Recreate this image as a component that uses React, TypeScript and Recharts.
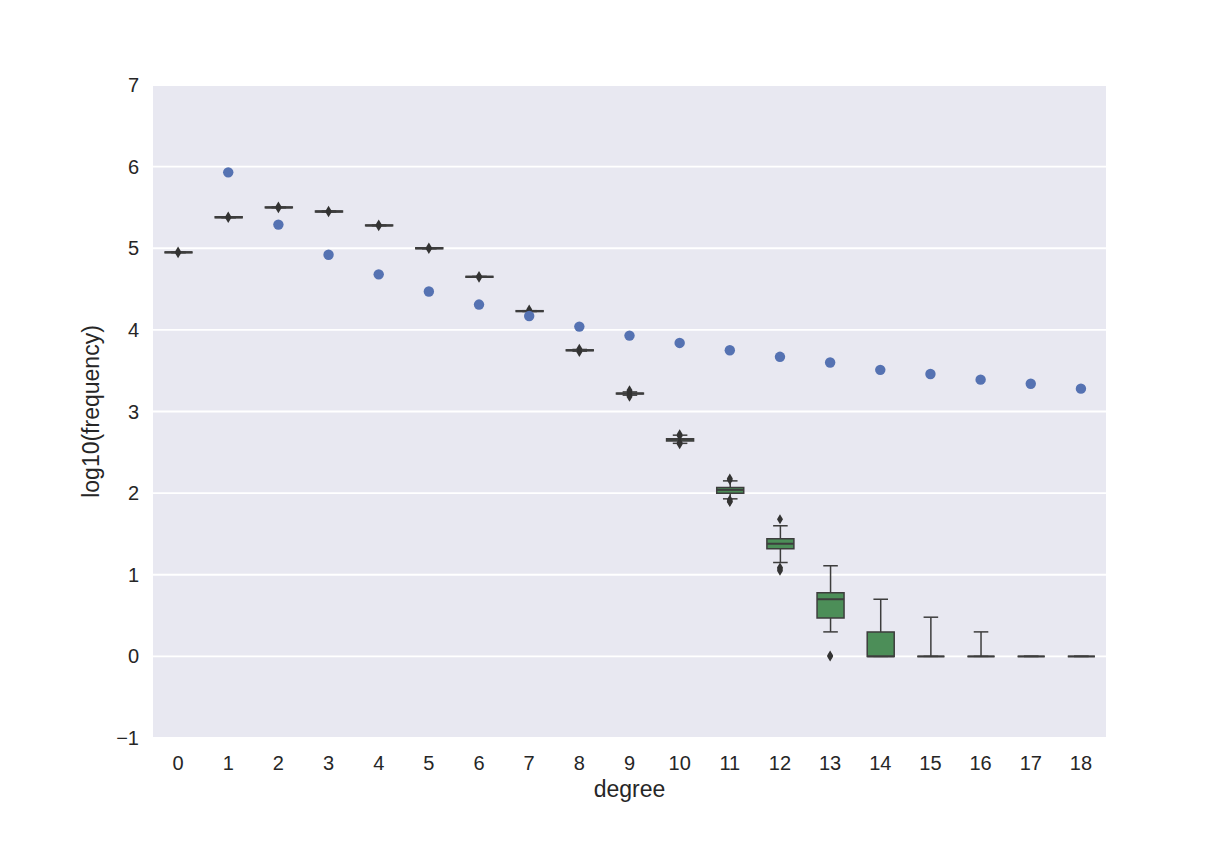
import React from "react";
import { ComposedChart, Bar, Scatter, XAxis, YAxis, CartesianGrid, Label } from "recharts";

const degrees = ["0", "1", "2", "3", "4", "5", "6", "7", "8", "9", "10", "11", "12", "13", "14", "15", "16", "17", "18"];

// blue points (observed)
const observed = [null, 5.93, 5.29, 4.92, 4.68, 4.47, 4.31, 4.17, 4.04, 3.93, 3.84, 3.75, 3.67, 3.6, 3.51, 3.46, 3.39, 3.34, 3.28];

// box statistics
const q1 = [4.945, 5.375, 5.495, 5.445, 5.275, 4.995, 4.645, 4.225, 3.745, 3.215, 2.64, 2.0, 1.32, 0.47, 0, 0, 0, 0, 0];
const median = [4.95, 5.38, 5.5, 5.45, 5.28, 5.0, 4.65, 4.23, 3.75, 3.22, 2.655, 2.04, 1.38, 0.7, 0, 0, 0, 0, 0];
const q3 = [4.955, 5.385, 5.505, 5.455, 5.285, 5.005, 4.655, 4.235, 3.755, 3.225, 2.665, 2.07, 1.44, 0.78, 0.3, 0, 0, 0, 0];
const whiskerLow = [4.945, 5.375, 5.495, 5.445, 5.275, 4.995, 4.645, 4.225, 3.74, 3.2, 2.61, 1.93, 1.15, 0.3, 0, 0, 0, 0, 0];
const whiskerHigh = [4.955, 5.385, 5.505, 5.455, 5.285, 5.005, 4.655, 4.235, 3.76, 3.24, 2.71, 2.15, 1.6, 1.11, 0.7, 0.48, 0.3, 0, 0];

const fliers = [
  [4.96, 4.94],
  [5.39, 5.37],
  [5.51, 5.49],
  [5.46, 5.44],
  [5.29, 5.27],
  [5.01, 4.99],
  [4.66, 4.64],
  [4.25, 4.22],
  [3.77, 3.73],
  [3.26, 3.24, 3.2, 3.18],
  [2.72, 2.7, 2.62, 2.6],
  [2.18, 2.16, 1.92, 1.9, 1.89],
  [1.68, 1.09, 1.07, 1.05],
  [0.01, 0],
  [],
  [],
  [],
  [],
  [],
];

const yTicks = [-1, 0, 1, 2, 3, 4, 5, 6, 7];

const MAX_FLIERS = 5;
const flierKeys = Array.from({ length: MAX_FLIERS }, (_, k) => `f${k}`);

const rows = degrees.map((deg, i) => {
  const row: Record<string, unknown> = {
    deg,
    observed: observed[i],
    q1: q1[i],
    median: median[i],
    q3: q3[i],
    wlo: whiskerLow[i],
    whi: whiskerHigh[i],
  };
  flierKeys.forEach((key, k) => {
    row[key] = fliers[i][k] ?? null;
  });
  return row;
});

const FONT = "'Liberation Sans', Arial, sans-serif";
const EDGE = "#3d3d3d";
const BOX_FILL = "#4c8e58";
const DOT_FILL = "#5572b2";

function span(props: any) {
  const top = Math.min(props.y, props.y + props.height);
  const bottom = Math.max(props.y, props.y + props.height);
  return { top, bottom, cx: props.x + props.width / 2 };
}

function WhiskerShape(props: any) {
  const { top, bottom, cx } = span(props);
  const cap = props.width * 0.27;
  return (
    <g stroke={EDGE} strokeWidth={1.5} fill="none">
      <line x1={cx} x2={cx} y1={top} y2={bottom} />
      <line x1={cx - cap} x2={cx + cap} y1={top} y2={top} />
      <line x1={cx - cap} x2={cx + cap} y1={bottom} y2={bottom} />
    </g>
  );
}

function BoxShape(props: any) {
  const { top, bottom } = span(props);
  const { x, width } = props;
  return (
    <path
      d={`M${x},${top} H${x + width} V${bottom} H${x} Z`}
      fill={BOX_FILL}
      stroke={EDGE}
      strokeWidth={1.5}
    />
  );
}

function MedianShape(props: any) {
  const { top } = span(props);
  return <line x1={props.x} x2={props.x + props.width} y1={top} y2={top} stroke={EDGE} strokeWidth={2} />;
}

function flierShape(key: string) {
  return (props: any) => {
    if (props.payload == null || props.payload[key] == null) return <g />;
    const { cx, cy } = props;
    return <path d={`M${cx},${cy - 5} L${cx + 3},${cy} L${cx},${cy + 5} L${cx - 3},${cy} Z`} fill="#333" />;
  };
}

function DotShape(props: any) {
  if (props.payload == null || props.payload.observed == null) return <g />;
  return <circle cx={props.cx} cy={props.cy} r={5.2} fill={DOT_FILL} />;
}

const formatY = (v: number) => (v < 0 ? `\u2212${-v}` : String(v));

export default function App() {
  const tickStyle = { fill: "#262626", fontSize: 20, fontFamily: FONT };
  return (
    <div style={{ position: "absolute", left: 0, top: 0, width: 1228, height: 844, background: "#fff", fontFamily: FONT }}>
      <ComposedChart width={1228} height={844} data={rows} margin={{ top: 85, right: 122, bottom: 36, left: 83 }}>
        <CartesianGrid xAxisId="main" vertical={false} fill="#e8e8f1" stroke="#ffffff" strokeWidth={1.8} />
        <XAxis
          xAxisId="main"
          dataKey="deg"
          allowDuplicatedCategory={false}
          height={70}
          axisLine={false}
          tickLine={false}
          tickSize={0}
          tickMargin={18}
          tick={tickStyle}
          interval={0}
        >
          <Label value="degree" position="insideBottom" offset={11} fill="#262626" fontSize={23} fontFamily={FONT} />
        </XAxis>
        <XAxis xAxisId="whisker" dataKey="deg" hide />
        <XAxis xAxisId="median" dataKey="deg" hide />
        <YAxis
          type="number"
          domain={[-1, 7]}
          ticks={yTicks}
          allowDataOverflow
          width={70}
          axisLine={false}
          tickLine={false}
          tickSize={0}
          tickMargin={14}
          tick={tickStyle}
          tickFormatter={formatY}
        >
          <Label
            value="log10(frequency)"
            angle={-90}
            position="insideLeft"
            offset={8}
            fill="#262626"
            fontSize={23}
            fontFamily={FONT}
            style={{ textAnchor: "middle" }}
          />
        </YAxis>
        <Bar
          xAxisId="whisker"
          dataKey={(d: any) => [d.wlo, d.whi]}
          barSize={27}
          shape={WhiskerShape}
          isAnimationActive={false}
        />
        <Bar xAxisId="main" dataKey={(d: any) => [d.q1, d.q3]} barSize={27} shape={BoxShape} isAnimationActive={false} />
        <Bar
          xAxisId="median"
          dataKey={(d: any) => [d.median, d.median]}
          barSize={27}
          shape={MedianShape}
          isAnimationActive={false}
        />
        {flierKeys.map((key) => (
          <Scatter key={key} xAxisId="main" dataKey={key} shape={flierShape(key)} isAnimationActive={false} />
        ))}
        <Scatter xAxisId="main" dataKey="observed" shape={DotShape} isAnimationActive={false} />
      </ComposedChart>
    </div>
  );
}
